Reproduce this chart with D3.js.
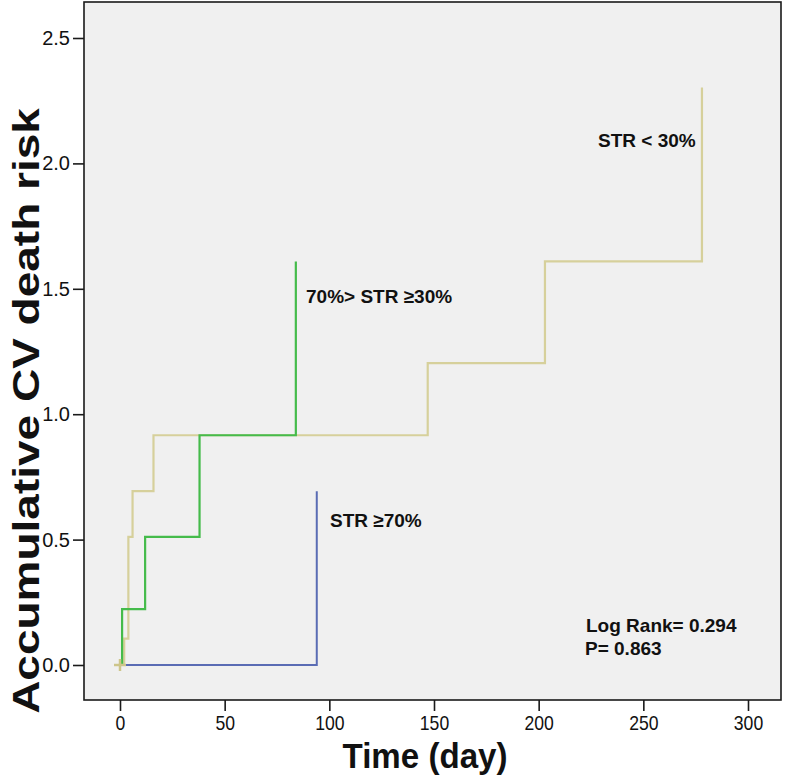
<!DOCTYPE html>
<html>
<head>
<meta charset="utf-8">
<script src="https://cdn.jsdelivr.net/npm/d3@7/dist/d3.min.js"></script>
<style>
  html, body { margin: 0; padding: 0; background: #ffffff; }
  svg { display: block; }
  text { font-family: Arial, "Liberation Sans", sans-serif; fill: #111; }
</style>
</head>
<body>
<svg id="chart" width="787" height="780"></svg>
<script>
// ---- data ----
const xTicks = [0, 50, 100, 150, 200, 250, 300];
const yTicks = [0.0, 0.5, 1.0, 1.5, 2.0, 2.5];
const yTickLabels = ["0.0", "0.5", "1.0", "1.5", "2.0", "2.5"];

const lowTime  = [0, 2, 4, 6, 16, 147, 203, 278];          // STR < 30%
const lowRisk  = [0, 0.105, 0.511, 0.693, 0.916, 1.204, 1.609, 2.303];
const midTime  = [0, 1, 12, 38, 84];                          // 70%> STR >=30%
const midRisk  = [0, 0.223, 0.511, 0.916, 1.609];
const highTime = [0, 94];                                     // STR >=70%
const highRisk = [0, 0.693];

const censorTime = [0];
const censorRisk = [0];

const seriesNames = ["STR < 30%", "70%> STR \u226530%", "STR \u226570%"];
const stats = ["Log Rank= 0.294", "P= 0.863"];

// ---- layout ----
const svg = d3.select("#chart");
const frame = { left: 84, right: 781, top: 2, bottom: 700 };

const x = d3.scaleLinear().domain([0, 300]).range([120, 748]);
const y = d3.scaleLinear().domain([0, 2.5]).range([665, 38]);

// plot background / frame
svg.append("rect")
  .attr("x", frame.left).attr("y", frame.top)
  .attr("width", frame.right - frame.left).attr("height", frame.bottom - frame.top)
  .attr("fill", "#f0f0f0").attr("stroke", "#1a1a1a").attr("stroke-width", 1.6);

// axes
const xAxis = d3.axisBottom(x).tickValues(xTicks).tickSize(11).tickPadding(5).tickFormat(d3.format("d"));
const gx = svg.append("g").attr("transform", `translate(0,${frame.bottom})`).call(xAxis);
gx.select(".domain").remove();
gx.selectAll(".tick line").attr("stroke", "#1a1a1a").attr("stroke-width", 1.6);
gx.selectAll(".tick text").attr("font-size", 20).attr("fill", "#111")
  .attr("font-family", "Arial, 'Liberation Sans', sans-serif")
  .attr("transform", "scale(0.88,1)")
  .attr("x", 0);

const yAxis = d3.axisLeft(y).tickValues(yTicks).tickSize(11).tickPadding(3)
  .tickFormat((d, i) => yTickLabels[i]);
const gy = svg.append("g").attr("transform", `translate(${frame.left},0)`).call(yAxis);
gy.select(".domain").remove();
gy.selectAll(".tick line").attr("stroke", "#1a1a1a").attr("stroke-width", 1.6);
gy.selectAll(".tick text").attr("font-size", 20).attr("fill", "#111")
  .attr("font-family", "Arial, 'Liberation Sans', sans-serif");

// curves
const line = d3.line().x(d => x(d[0])).y(d => y(d[1])).curve(d3.curveStepAfter);
function pts(t, v) { return t.map((d, i) => [d, v[i]]); }

svg.append("path").datum(pts(highTime, highRisk))
  .attr("d", line).attr("fill", "none").attr("stroke", "#5a6cb4").attr("stroke-width", 2);
svg.append("path").datum(pts(lowTime, lowRisk))
  .attr("d", line).attr("fill", "none").attr("stroke", "#d6d09b").attr("stroke-width", 2.2);
svg.append("path").datum(pts(midTime, midRisk))
  .attr("d", line).attr("fill", "none").attr("stroke", "#45bb4b").attr("stroke-width", 2.2);

// censor marks
censorTime.forEach((t, i) => {
  const cx = x(t), cy = y(censorRisk[i]);
  svg.append("path")
    .attr("d", `M${cx - 6},${cy}H${cx + 6}M${cx},${cy - 6}V${cy + 6}`)
    .attr("stroke", "#cdc58a").attr("stroke-width", 2.5).attr("fill", "none");
});

// annotations
function label(px, py, str, size, anchor) {
  svg.append("text").attr("x", px).attr("y", py)
    .attr("font-size", size).attr("font-weight", "bold")
    .attr("text-anchor", anchor || "start").text(str);
}
label(598, 147, seriesNames[0], 19);
label(306, 303, seriesNames[1], 19);
label(330, 527, seriesNames[2], 19);
label(586, 632, stats[0], 19);
label(585, 655, stats[1], 19);

// axis titles
svg.append("text")
  .attr("transform", "translate(425,768) scale(0.92,1)")
  .attr("text-anchor", "middle").attr("font-size", 36).attr("font-weight", "bold")
  .text("Time (day)");

svg.append("text")
  .attr("transform", "translate(39,411) rotate(-90) scale(1,0.8)")
  .attr("text-anchor", "middle").attr("font-size", 46).attr("font-weight", "bold")
  .text("Accumulative CV death risk");
</script>
</body>
</html>
